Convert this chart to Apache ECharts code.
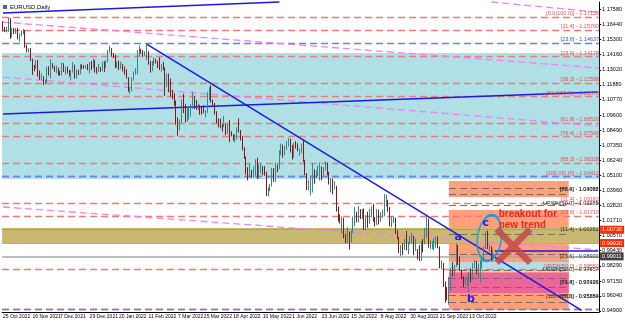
<!DOCTYPE html>
<html><head><meta charset="utf-8">
<script src="https://cdn.jsdelivr.net/npm/echarts@6/dist/echarts.min.js"></script>
<style>html,body{margin:0;padding:0;background:#fff;overflow:hidden}#c{width:625px;height:323px}</style>
</head><body><div id="c"></div><script>
// ---- data ----
const slotCount = 324; // visible daily slots (bars + right shift)
// daily candles from 25 Oct 2021: [open, close, low, high]
const candles = [
[1.1645,1.1609,1.1590,1.1668],[1.1609,1.1598,1.1585,1.1624],[1.1598,1.1603,1.1582,1.1625],[1.1603,1.1681,1.1587,1.1692],[1.1681,1.1558,1.1535,1.1690],
[1.1558,1.1607,1.1545,1.1616],[1.1607,1.1580,1.1570,1.1617],[1.1580,1.1612,1.1571,1.1616],[1.1612,1.1553,1.1530,1.1617],[1.1553,1.1568,1.1514,1.1575],
[1.1568,1.1586,1.1553,1.1597],[1.1586,1.1593,1.1569,1.1609],[1.1593,1.1479,1.1468,1.1600],[1.1479,1.1445,1.1433,1.1489],[1.1445,1.1445,1.1432,1.1464],
[1.1445,1.1369,1.1367,1.1464],[1.1369,1.1320,1.1264,1.1385],[1.1320,1.1319,1.1291,1.1338],[1.1319,1.1370,1.1309,1.1374],[1.1370,1.1290,1.1250,1.1376],
[1.1290,1.1235,1.1226,1.1296],[1.1235,1.1250,1.1226,1.1275],[1.1250,1.1198,1.1186,1.1253],[1.1198,1.1208,1.1194,1.1228],[1.1208,1.1318,1.1203,1.1325],
[1.1318,1.1293,1.1258,1.1328],[1.1293,1.1337,1.1236,1.1383],[1.1337,1.1320,1.1309,1.1352],[1.1320,1.1304,1.1286,1.1333],[1.1304,1.1315,1.1277,1.1333],
[1.1315,1.1285,1.1260,1.1318],[1.1285,1.1266,1.1256,1.1295],[1.1266,1.1343,1.1260,1.1355],[1.1343,1.1290,1.1285,1.1352],[1.1290,1.1317,1.1265,1.1325],
[1.1317,1.1285,1.1275,1.1325],[1.1285,1.1258,1.1252,1.1300],[1.1258,1.1289,1.1222,1.1300],[1.1289,1.1330,1.1280,1.1360],[1.1330,1.1238,1.1235,1.1340],
[1.1238,1.1282,1.1235,1.1305],[1.1282,1.1279,1.1262,1.1302],[1.1279,1.1330,1.1268,1.1345],[1.1330,1.1327,1.1305,1.1342],[1.1327,1.1320,1.1310,1.1337],
[1.1320,1.1330,1.1310,1.1336],[1.1330,1.1310,1.1298,1.1345],[1.1310,1.1350,1.1273,1.1360],[1.1350,1.1326,1.1300,1.1367],[1.1326,1.1370,1.1315,1.1386],
[1.1370,1.1297,1.1281,1.1376],[1.1297,1.1286,1.1272,1.1322],[1.1286,1.1313,1.1284,1.1346],[1.1313,1.1298,1.1285,1.1323],[1.1298,1.1359,1.1293,1.1364],
[1.1359,1.1326,1.1285,1.1365],[1.1326,1.1366,1.1316,1.1375],[1.1366,1.1442,1.1358,1.1450],[1.1442,1.1455,1.1429,1.1482],[1.1455,1.1413,1.1399,1.1464],
[1.1413,1.1408,1.1390,1.1428],[1.1408,1.1324,1.1316,1.1415],[1.1324,1.1344,1.1313,1.1362],[1.1344,1.1311,1.1300,1.1370],[1.1311,1.1344,1.1307,1.1362],
[1.1344,1.1325,1.1290,1.1347],[1.1325,1.1302,1.1265,1.1328],[1.1302,1.1241,1.1235,1.1305],[1.1241,1.1144,1.1137,1.1246],[1.1144,1.1147,1.1121,1.1174],
[1.1147,1.1234,1.1140,1.1244],[1.1234,1.1271,1.1220,1.1290],[1.1271,1.1302,1.1265,1.1315],[1.1302,1.1440,1.1268,1.1449],[1.1440,1.1458,1.1405,1.1483],
[1.1458,1.1441,1.1422,1.1460],[1.1441,1.1414,1.1397,1.1450],[1.1414,1.1422,1.1404,1.1441],[1.1422,1.1425,1.1373,1.1495],[1.1425,1.1348,1.1340,1.1442],
[1.1348,1.1305,1.1280,1.1368],[1.1305,1.1358,1.1292,1.1368],[1.1358,1.1375,1.1334,1.1395],[1.1375,1.1362,1.1349,1.1384],[1.1362,1.1322,1.1315,1.1370],
[1.1322,1.1308,1.1300,1.1395],[1.1308,1.1310,1.1288,1.1344],[1.1310,1.1308,1.1300,1.1361],[1.1308,1.1193,1.1106,1.1320],[1.1193,1.1270,1.1170,1.1275],
[1.1270,1.1218,1.1133,1.1273],[1.1218,1.1123,1.1100,1.1236],[1.1123,1.1120,1.1080,1.1150],[1.1120,1.1064,1.1032,1.1127],[1.1064,1.0930,1.0888,1.1070],
[1.0930,1.0855,1.0806,1.0944],[1.0855,1.0902,1.0846,1.0930],[1.0902,1.1075,1.0900,1.1080],[1.1075,1.0983,1.0977,1.1121],[1.0983,1.0912,1.0906,1.1043],
[1.0912,1.0942,1.0912,1.1018],[1.0942,1.0956,1.0927,1.1020],[1.0956,1.1035,1.0950,1.1045],[1.1035,1.1093,1.1007,1.1137],[1.1093,1.1050,1.1007,1.1102],
[1.1050,1.1016,1.1001,1.1075],[1.1016,1.1030,1.0999,1.1047],[1.1030,1.1009,1.0963,1.1038],[1.1009,1.0997,1.0965,1.1024],[1.0997,1.0983,1.0976,1.1035],
[1.0983,1.0985,1.0944,1.1000],[1.0985,1.1089,1.0978,1.1137],[1.1089,1.1159,1.1074,1.1171],[1.1159,1.1067,1.1054,1.1185],[1.1067,1.1049,1.1029,1.1077],
[1.1049,1.0970,1.0965,1.1053],[1.0970,1.0905,1.0901,1.0990],[1.0905,1.0902,1.0869,1.0936],[1.0902,1.0880,1.0862,1.0935],[1.0880,1.0877,1.0837,1.0893],
[1.0877,1.0889,1.0872,1.0955],[1.0889,1.0829,1.0811,1.0893],[1.0829,1.0889,1.0821,1.0895],[1.0889,1.0825,1.0758,1.0924],[1.0825,1.0807,1.0802,1.0840],
[1.0807,1.0780,1.0769,1.0817],[1.0780,1.0789,1.0757,1.0818],[1.0789,1.0852,1.0776,1.0869],[1.0852,1.0835,1.0829,1.0936],[1.0835,1.0794,1.0770,1.0849],
[1.0794,1.0715,1.0697,1.0805],[1.0715,1.0640,1.0632,1.0720],[1.0640,1.0560,1.0515,1.0650],[1.0560,1.0500,1.0471,1.0570],[1.0500,1.0545,1.0495,1.0594],
[1.0545,1.0505,1.0490,1.0550],[1.0505,1.0520,1.0492,1.0575],[1.0520,1.0620,1.0505,1.0630],[1.0620,1.0540,1.0482,1.0641],[1.0540,1.0550,1.0484,1.0590],
[1.0550,1.0560,1.0524,1.0600],[1.0560,1.0530,1.0510,1.0580],[1.0530,1.0515,1.0505,1.0577],[1.0515,1.0380,1.0354,1.0536],[1.0380,1.0410,1.0350,1.0420],
[1.0410,1.0435,1.0390,1.0445],[1.0435,1.0550,1.0425,1.0564],[1.0550,1.0465,1.0460,1.0563],[1.0465,1.0585,1.0460,1.0605],[1.0585,1.0563,1.0532,1.0590],
[1.0563,1.0690,1.0555,1.0697],[1.0690,1.0735,1.0660,1.0748],[1.0735,1.0675,1.0640,1.0740],[1.0675,1.0725,1.0660,1.0730],[1.0725,1.0733,1.0700,1.0765],
[1.0733,1.0780,1.0725,1.0787],[1.0780,1.0733,1.0680,1.0785],[1.0733,1.0650,1.0627,1.0737],[1.0650,1.0750,1.0640,1.0753],[1.0750,1.0720,1.0710,1.0765],
[1.0720,1.0695,1.0690,1.0750],[1.0695,1.0705,1.0655,1.0710],[1.0705,1.0717,1.0675,1.0748],[1.0717,1.0615,1.0608,1.0774],[1.0615,1.0520,1.0510,1.0625],
[1.0520,1.0410,1.0398,1.0525],[1.0410,1.0420,1.0395,1.0476],[1.0420,1.0445,1.0359,1.0505],[1.0445,1.0550,1.0380,1.0601],[1.0550,1.0495,1.0445,1.0555],
[1.0495,1.0510,1.0485,1.0545],[1.0510,1.0535,1.0500,1.0583],[1.0535,1.0565,1.0470,1.0605],[1.0565,1.0520,1.0470,1.0575],[1.0520,1.0555,1.0510,1.0570],
[1.0555,1.0585,1.0545,1.0615],[1.0585,1.0520,1.0510,1.0605],[1.0520,1.0445,1.0440,1.0535],[1.0445,1.0480,1.0380,1.0488],[1.0480,1.0425,1.0365,1.0485],
[1.0425,1.0425,1.0405,1.0465],[1.0425,1.0265,1.0236,1.0430],[1.0265,1.0185,1.0162,1.0275],[1.0185,1.0160,1.0145,1.0215],[1.0160,1.0185,1.0072,1.0200],
[1.0185,1.0040,1.0035,1.0190],[1.0040,1.0035,0.9998,1.0070],[1.0035,1.0060,0.9998,1.0120],[1.0060,1.0020,0.9952,1.0085],[1.0020,1.0080,1.0005,1.0095],
[1.0080,1.0140,1.0075,1.0200],[1.0140,1.0225,1.0125,1.0270],[1.0225,1.0180,1.0155,1.0235],[1.0180,1.0230,1.0155,1.0278],[1.0230,1.0210,1.0180,1.0255],
[1.0210,1.0225,1.0180,1.0255],[1.0225,1.0120,1.0100,1.0260],[1.0120,1.0200,1.0095,1.0210],[1.0200,1.0195,1.0115,1.0235],[1.0195,1.0225,1.0145,1.0255],
[1.0225,1.0260,1.0200,1.0275],[1.0260,1.0165,1.0160,1.0295],[1.0165,1.0140,1.0125,1.0195],[1.0140,1.0245,1.0135,1.0255],[1.0245,1.0180,1.0140,1.0250],
[1.0180,1.0195,1.0160,1.0230],[1.0195,1.0210,1.0190,1.0250],[1.0210,1.0297,1.0200,1.0368],[1.0297,1.0320,1.0275,1.0365],[1.0320,1.0260,1.0235,1.0325],
[1.0260,1.0160,1.0125,1.0270],[1.0160,1.0170,1.0120,1.0200],[1.0170,1.0180,1.0150,1.0200],[1.0180,1.0090,1.0070,1.0190],[1.0090,1.0040,1.0030,1.0095],
[1.0040,0.9945,0.9925,1.0045],[0.9945,0.9970,0.9901,0.9985],[0.9970,0.9965,0.9910,0.9999],[0.9965,0.9975,0.9950,1.0030],[0.9975,0.9965,0.9945,1.0090],
[0.9965,1.0000,0.9915,1.0010],[1.0000,1.0015,0.9990,1.0055],[1.0015,1.0055,0.9995,1.0080],[1.0055,0.9945,0.9910,1.0055],[0.9945,0.9955,0.9940,1.0035],
[0.9955,0.9925,0.9877,0.9955],[0.9925,0.9900,0.9865,0.9985],[0.9900,1.0010,0.9865,1.0015],[1.0010,1.0000,0.9930,1.0030],[1.0000,1.0045,0.9990,1.0115],
[1.0045,1.0120,1.0040,1.0198],[1.0120,0.9975,0.9965,1.0185],[0.9975,0.9980,0.9955,1.0020],[0.9980,1.0000,0.9955,1.0015],[1.0000,1.0015,0.9945,1.0035],
[1.0015,1.0025,0.9965,1.0050],[1.0025,0.9970,0.9960,1.0050],[0.9970,0.9835,0.9810,0.9975],[0.9835,0.9840,0.9805,0.9870],[0.9840,0.9690,0.9670,0.9850],
[0.9690,0.9605,0.9553,0.9710],[0.9605,0.9590,0.9570,0.9670],[0.9590,0.9735,0.9536,0.9745],[0.9735,0.9815,0.9640,0.9815],[0.9815,0.9800,0.9750,0.9855],
[0.9800,0.9825,0.9750,0.9835],[0.9825,0.9985,0.9820,0.9999],[0.9985,0.9885,0.9835,0.9985],[0.9885,0.9795,0.9790,0.9900],[0.9795,0.9740,0.9730,0.9800],
[0.9740,0.9705,0.9670,0.9750],[0.9705,0.9705,0.9690,0.9730],[0.9705,0.9705,0.9680,0.9755],[0.9705,0.9780,0.9632,0.9785],[0.9780,0.9720,0.9705,0.9810],
[0.9720,0.9840,0.9720,0.9850],[0.9840,0.9855,0.9810,0.9875],[0.9855,0.9775,0.9765,0.9865],[0.9775,0.9780,0.9735,0.9845],[0.9780,0.9860,0.9705,0.9870],
[0.9860,0.9875,0.9810,0.9900],[0.9875,0.9965,0.9860,0.9975],[0.9965,1.0080,0.9955,1.0090],[1.0080,0.9965,0.9955,1.0093],[0.9965,0.9965,0.9935,0.9990],
[0.9965,0.9885,0.9870,0.9975],[0.9885,0.9901,0.9860,0.9953]
];
const tickLabels = ['25 Oct 2021','16 Nov 2021','7 Dec 2021','29 Dec 2021','20 Jan 2022','11 Feb 2022','7 Mar 2022','25 Mar 2022','18 Apr 2022','10 May 2022','1 Jun 2022','23 Jun 2022','15 Jul 2022','8 Aug 2022','30 Aug 2022','21 Sep 2022','13 Oct 2022'];
const priceTicks = [1.17580,1.16440,1.15300,1.14160,1.13020,1.11880,1.10770,1.09600,1.08490,1.07350,1.06240,1.05100,1.03960,1.02820,1.01710,1.00570,0.99430,0.98290,0.97150,0.96040,0.94900];
const yMin = 0.9482, yMax = 1.1811;
// full-width red dashed levels [price, label]
const redLevels = [[1.1720,'[0.0(100.0)] - 1.17128'],[1.1578,'[11.4] - 1.15700'],[1.1428,'[23.6] - 1.14178'],[1.1240,'[38.2] - 1.12598'],[1.1090,'[50.0(50.0)] - 1.10878'],[1.0947,'[61.8] - 1.09520'],[1.0759,'[76.4] - 1.07566'],[1.0609,'[88.2] - 1.06028'],[1.0489,'[100.0(0.0)] - 1.04412'],[1.0324,'[11.4] - 1.03182'],[1.0173,'[23.6] - 1.01710'],[0.9843,'UP/DN[50.0] - 0.98550'],[0.9498,'']];
const blueLevels = [[1.1458,'[23.6] - 1.14637'],[1.0481,''],[0.9485,'']];
const greyLevel = 0.9903;
// levels drawn only inside the projection box
const boxLevels = [[1.0414,'[88.6] - 1.04098'],[1.0369,'[76.4] - 1.03782'],[1.0286,'UP/DN[50.0] - 1.02285'],[1.0068,'[11.4] - 1.00252'],[0.9918,'[23.6] - 0.98900'],[0.9798,'UP/DN[50.0] - 0.97657'],[0.9738,'[61.8] - 0.97126'],[0.9670,'[76.4] - 0.96495'],[0.9610,'[88.6] - 0.95884'],[0.9558,'[100.0(TD)] - 0.95250']];
const bandBlue = [1.1428, 1.0481];
const bandOlive = [1.0113, 1.0001];
const boxStartIdx = 242, boxEndIdx = 307;
const boxOrange = [[1.0466, 1.0346],[1.0248, 0.9497]];
const boxLightBlue = [0.9858, 0.9783];
const boxPink = [0.9776, 0.9625];
const priceBoxes = [[1.0113,'1.00736','#ff2a00'],[1.0001,'0.99920','#ff2a00'],[0.9926,'0.99011','#404040']];
const bidLine = 0.9940;
// trend lines [[idx, price],[idx, price]]
const downTrend = [[78, 1.1495],[314, 0.9495]];
const flatBlue = [[0, 1.0970],[323, 1.1135]];
const topBlue = [[0, 1.1728],[150, 1.1811]];
const magentaLines = [[[0,1.1660],[323,1.1315]],[[0,1.1247],[323,1.0879]],[[0,1.0271],[323,0.9948]],[[265,1.1811],[323,1.1735]]];
const waveLabels = [['a',247,1.0046],['b',254,0.9580],['c',262,1.0151]];
const note = ['breakout for','new trend'];

// ---- build ----
const M=['Jan','Feb','Mar','Apr','May','Jun','Jul','Aug','Sep','Oct','Nov','Dec'];
const dates=[]; {let d=new Date(Date.UTC(2021,9,25)); while(dates.length<slotCount){const w=d.getUTCDay(); if(w!==0&&w!==6) dates.push(d.getUTCDate()+' '+M[d.getUTCMonth()]+' '+d.getUTCFullYear()); d.setUTCDate(d.getUTCDate()+1);}}
const X = i => dates[i];
const FONT = 'Liberation Sans Narrow, Liberation Sans, Arial, sans-serif';
const lblFont = {fontSize:5.5, fontFamily:FONT};
const NOLINE = {width:0, color:'rgba(0,0,0,0)'};
const hl = (p, label, color, type, width, xs, xe, lcolor) => {
  if (xs==null) return {yAxis:p, lineStyle:{color, type, width}, label:{show:!!label, formatter:label, position:'insideEndTop', distance:[0,0.5], color:lcolor||color, ...lblFont}};
  return [{coord:[X(xs),p], lineStyle:{color, type, width}, label:{show:false}}, {coord:[X(xe),p]}];
};
const markLines = [];
redLevels.forEach(([p,l])=>markLines.push(hl(p,l,'#f07878',[7,4],1.3,null,null,'#e05050')));
blueLevels.forEach(([p,l])=>markLines.push(hl(p,l,'#6a7ef0',[7,4],1.3,null,null,'#4050d0')));
markLines.push(hl(greyLevel,'','#a8a8a8','solid',1.5,null,null));
boxLevels.forEach(([p,l])=>{
  markLines.push(hl(p,l,'#7a6a60',[7,4],1.2,boxStartIdx,boxEndIdx));
  markLines.push({yAxis:p, lineStyle:NOLINE, label:{show:true, formatter:l, position:'insideEnd', distance:0.5, color:'#303030', ...lblFont}});
});
const seg = (l, color, type, width) => [{coord:[X(l[0][0]),l[0][1]], lineStyle:{color,type,width}},{coord:[X(l[1][0]),l[1][1]]}];
const showTick = (i,v)=>tickLabels.indexOf(v)>=0;

const option = {
  animation:false,
  backgroundColor:'#ffffff',
  grid:{left:2, right:23, top:2, bottom:11},
  xAxis:{type:'category', data:dates, boundaryGap:true,
    axisLine:{lineStyle:{color:'#000',width:1}},
    axisTick:{interval:showTick, length:2, lineStyle:{color:'#000'}},
    axisLabel:{interval:showTick, align:'left', fontSize:5, color:'#000', margin:2, fontFamily:FONT, hideOverlap:false},
    splitLine:{show:false}},
  yAxis:{type:'value', position:'right', min:yMin, max:yMax, scale:true,
    axisLine:{show:true, lineStyle:{color:'#000'}},
    axisTick:{show:true, length:2, customValues:priceTicks, lineStyle:{color:'#000'}},
    axisLabel:{customValues:priceTicks, formatter:v=>v.toFixed(5), fontSize:5.5, color:'#000', margin:3, fontFamily:FONT},
    splitLine:{show:false}},
  series:[
    {type:'line', data:[], z:1, silent:true,
      markArea:{silent:true, z:1, data:[
        [{yAxis:bandBlue[0], itemStyle:{color:'#b0e0e6'}},{yAxis:bandBlue[1]}],
        [{coord:[X(boxStartIdx),boxOrange[0][0]], itemStyle:{color:'#ffa07a'}},{coord:[X(boxEndIdx),boxOrange[0][1]]}],
        [{coord:[X(boxStartIdx),boxOrange[1][0]], itemStyle:{color:'#ffa07a'}},{coord:[X(boxEndIdx),boxOrange[1][1]]}],
        [{coord:[X(boxStartIdx),boxLightBlue[0]], itemStyle:{color:'#b0e0e6'}},{coord:[X(boxEndIdx),boxLightBlue[1]]}],
        [{coord:[X(boxStartIdx),boxPink[0]], itemStyle:{color:'#f0649e'}},{coord:[X(boxEndIdx),boxPink[1]]}],
        [{yAxis:bandOlive[0], itemStyle:{color:'#c8b870'}},{yAxis:bandOlive[1]}]
      ]}},
    {type:'line', data:[], z:2, silent:true,
      markLine:{silent:true, symbol:'none', z:2, label:{show:false}, data:markLines.concat([
        hl(bandOlive[0],'','#e8902a','solid',1.2,null,null),
        hl(bandOlive[1],'','#f09090','solid',1.2,null,null),
        ...magentaLines.map(l=>seg(l,'#ee82ee',[7,4],1.3)),
        seg(flatBlue,'#1a1ae0','solid',1.5),
        seg(topBlue,'#1a1ae0','solid',1.5)
      ])}},
    {type:'candlestick', name:'EURUSD', data:candles, z:5, barWidth:1.2,
      itemStyle:{color:'#2a8c8c', color0:'#8c1414', borderColor:'#2a8c8c', borderColor0:'#8c1414', borderWidth:1}},
    {type:'line', data:[], z:6, silent:true,
      markLine:{silent:true, symbol:'none', data:[
        seg(downTrend,'#1a1ae0','solid',1.5),
        seg([[267,bidLine],[slotCount-1,bidLine]],'#1a1ae0','solid',1.5),
        ...priceBoxes.map(([p,t,c])=>({yAxis:p, lineStyle:NOLINE, label:{show:true, position:'end', formatter:t, color:'#fff', backgroundColor:c, padding:[1,2], fontSize:5.5, fontFamily:FONT, distance:1}}))
      ]},
      markPoint:{silent:true, data:[
        ...waveLabels.map(([t,i,p])=>({coord:[X(i),p], symbol:'circle', symbolSize:0, label:{show:true, formatter:t, color:'#1e1ee6', fontWeight:'bold', fontSize:11, fontFamily:'DejaVu Sans'}})),
        {coord:[X(264),1.0038], symbol:'circle', symbolSize:[24,46], symbolRotate:-8, itemStyle:{color:'rgba(0,0,0,0)', borderColor:'#1a9fd8', borderWidth:2}, label:{show:false}},
        {coord:[X(277),0.9978], symbol:'path://M0,12 L12,0 L50,38 L88,0 L100,12 L62,50 L100,88 L88,100 L50,62 L12,100 L0,88 L38,50 Z', symbolSize:[38,38], itemStyle:{color:'#c54848', opacity:0.85}, label:{show:false}},
        {coord:[X(269),1.0175], symbol:'circle', symbolSize:0, label:{show:true, position:'right', formatter:note.join('\n'), color:'#e8281e', fontWeight:'bold', fontSize:10, lineHeight:10.5, fontFamily:'Liberation Sans, Arial', distance:0}}
      ]}}
  ],
  graphic:[{type:'text', left:10, top:4, style:{text:'EURUSD,Daily', fontSize:6, fill:'#000', fontFamily:FONT}},
           {type:'rect', left:3, top:5, shape:{width:4,height:4}, style:{fill:'#3a6aa0'}}]
};
const chart = echarts.init(document.getElementById('c'), null, {renderer:'canvas'});
chart.setOption(option);
</script></body></html>
